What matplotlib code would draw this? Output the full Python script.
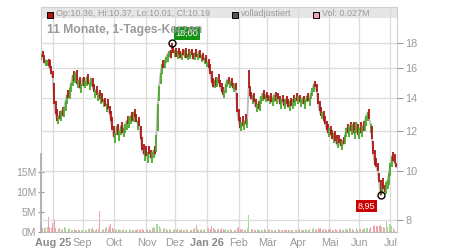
import numpy as np
import pandas as pd
import matplotlib
matplotlib.use("Agg")
import matplotlib.pyplot as plt
from matplotlib.patches import Rectangle
from matplotlib.ticker import NullLocator

plt.rcParams['font.family'] = ['Liberation Sans', 'DejaVu Sans']

# ---------------- data ----------------
start_date = '2025-07-22'
title = '11 Monate, 1-Tages-Kerzen'
header_ohlc = 'Op:10.36, Hi:10.37, Lo:10.01, Cl:10.19'
header_adj = 'volladjustiert'
header_vol = 'Vol: 0.027M'

closes = [
    17.1, 16.9, 16.4, 16.6, 16.6, 16.2, 16.0, 15.6, 15.3, 13.6,
    13.0, 12.6, 12.9, 12.7, 13.2, 12.9, 13.4, 13.8, 14.2, 14.0,
    14.6, 15.0, 15.5, 15.1, 15.7, 14.9, 15.2, 14.6, 14.9, 15.3,
    14.8, 15.1, 15.4, 14.9, 15.0, 15.3, 14.7, 14.4, 14.5, 14.2,
    14.3, 13.9, 14.1, 13.7, 13.9, 13.5, 13.6, 13.3, 13.0, 12.6,
    12.1, 11.7, 11.9, 12.3, 11.8, 12.0, 12.3, 11.9, 12.2, 12.4,
    12.6, 12.4, 12.8, 12.9, 12.6, 13.1, 12.8, 12.5, 12.6, 12.3,
    11.6, 11.0, 10.8, 11.0, 10.7, 10.9, 10.8, 10.6, 10.9, 11.0,
    10.8, 11.8, 13.6, 14.8, 15.7, 16.3, 16.0, 16.6, 16.9, 17.1,
    17.3, 16.8, 17.5, 17.2, 17.4, 16.9, 17.3, 17.1, 16.8, 17.2,
    17.0, 17.4, 16.8, 17.1, 16.9, 17.3, 17.0, 16.7, 17.2, 16.9,
    17.1, 17.3, 16.8, 17.0, 16.6, 16.8, 16.4, 16.5, 16.0, 15.6,
    15.0, 14.7, 15.2, 14.8, 15.3, 15.0, 14.7, 14.4, 14.2, 14.5,
    14.9, 15.2, 14.9, 15.1, 14.8, 14.6, 14.9, 14.5, 13.1, 12.6,
    12.2, 12.5, 12.3, 12.6, 12.4, 12.7, 14.6, 14.1, 13.9, 14.2,
    13.7, 13.4, 13.6, 13.3, 13.8, 14.1, 14.3, 13.9, 14.2, 14.0,
    13.8, 14.1, 13.7, 14.0, 14.2, 13.8, 14.1, 13.9, 13.6, 13.9,
    13.7, 13.5, 13.9, 13.6, 13.4, 13.8, 13.5, 13.9, 13.7, 14.0,
    13.8, 14.1, 13.7, 13.9, 14.0, 13.6, 13.9, 14.1, 13.8, 14.0,
    14.3, 14.6, 14.9, 14.7, 14.4, 13.6, 13.2, 12.9, 13.1, 12.6,
    12.4, 12.1, 11.9, 12.2, 11.8, 11.6, 11.9, 11.5, 11.3, 11.6,
    11.4, 11.2, 11.5, 11.3, 11.8, 12.2, 11.9, 12.3, 12.0, 12.4,
    11.9, 12.1, 12.5, 11.8, 12.2, 11.9, 12.3, 12.0, 12.6, 12.9,
    13.1, 12.7, 12.4, 11.6, 10.8, 10.3, 10.2, 10.0, 9.5, 8.95,
    9.4, 9.2, 9.1, 9.5, 9.6, 9.9, 10.4, 10.7, 10.5, 10.4,
    10.19,
]
opens = [
    16.6, 17.3, 17.0, 16.2, 16.2, 16.7, 16.6, 16.2, 15.8, 15.0,
    13.8, 13.3, 12.4, 13.2, 12.6, 13.4, 12.8, 13.2, 13.6, 14.5,
    13.9, 14.4, 14.8, 15.8, 15.0, 15.9, 14.6, 15.4, 14.3, 14.8,
    15.4, 14.6, 14.8, 15.6, 14.5, 14.8, 15.3, 14.9, 14.0, 14.8,
    13.8, 14.5, 13.6, 14.3, 13.4, 14.0, 13.1, 13.9, 13.5, 13.2,
    12.8, 12.3, 11.4, 11.8, 12.4, 11.5, 11.8, 12.5, 11.7, 11.9,
    12.1, 12.9, 12.2, 12.4, 13.1, 12.5, 13.3, 13.0, 12.1, 12.8,
    12.3, 11.7, 11.3, 10.5, 11.2, 10.4, 11.2, 11.0, 10.4, 10.6,
    11.2, 10.9, 12.0, 13.8, 14.9, 15.6, 16.6, 16.0, 16.4, 16.5,
    16.9, 17.4, 18.0, 17.7, 16.9, 17.6, 16.7, 17.6, 17.3, 16.6,
    17.5, 16.8, 17.6, 16.6, 17.5, 16.7, 17.5, 17.2, 16.6, 17.5,
    16.6, 16.9, 17.4, 16.5, 17.2, 16.3, 17.0, 16.1, 16.7, 16.3,
    15.8, 15.3, 14.6, 15.4, 14.7, 15.6, 15.2, 15.0, 14.7, 14.0,
    14.3, 14.7, 15.4, 14.6, 15.3, 15.0, 14.4, 15.0, 14.3, 13.3,
    12.8, 12.0, 12.9, 12.1, 13.0, 12.2, 15.9, 14.8, 14.4, 13.6,
    14.3, 13.9, 13.1, 13.8, 13.2, 13.6, 13.8, 14.5, 13.7, 14.4,
    14.2, 13.6, 14.3, 13.5, 13.7, 14.4, 13.6, 14.3, 14.1, 13.3,
    14.2, 13.9, 13.3, 14.1, 13.9, 13.2, 14.0, 13.3, 14.2, 13.5,
    14.3, 13.6, 14.2, 13.4, 13.6, 14.1, 13.3, 13.7, 14.3, 13.5,
    13.9, 14.1, 14.4, 15.1, 14.9, 14.3, 13.8, 13.4, 12.7, 13.2,
    12.9, 12.6, 12.4, 11.7, 12.3, 12.1, 11.4, 12.0, 11.8, 11.1,
    11.8, 11.6, 11.0, 11.7, 11.3, 11.7, 12.4, 11.7, 12.5, 11.8,
    12.5, 11.6, 11.9, 12.4, 11.6, 12.5, 11.7, 12.6, 12.0, 12.3,
    12.6, 13.3, 11.9, 12.3, 11.5, 11.0, 10.6, 10.4, 9.9, 9.6,
    9.0, 9.7, 9.4, 9.0, 9.2, 9.4, 9.8, 10.2, 10.9, 10.8,
    10.36,
]
volumes_m = [
    1.8, 1.1, 1.0, 0.9, 1.2, 3.7, 1.2, 1.1, 2.3, 3.2,
    1.0, 0.8, 0.7, 0.9, 0.6, 0.8, 1.3, 0.9, 0.8, 0.7,
    0.9, 0.6, 0.5, 0.7, 0.5, 0.6, 0.4, 0.5, 0.6, 0.5,
    0.7, 0.6, 0.5, 0.8, 1.0, 0.7, 0.9, 0.6, 0.5, 0.8,
    0.7, 5.3, 0.8, 0.6, 0.7, 0.9, 1.2, 0.8, 1.6, 1.9,
    1.1, 0.8, 0.7, 0.6, 0.7, 0.6, 0.5, 0.6, 0.7, 0.5,
    0.6, 0.5, 0.7, 0.6, 0.5, 0.4, 0.6, 0.5, 0.7, 0.6,
    0.8, 0.7, 0.6, 0.5, 0.6, 0.7, 0.5, 0.6, 0.9, 1.2,
    0.9, 1.9, 2.0, 1.4, 1.1, 1.0, 0.8, 0.9, 0.7, 0.6,
    0.8, 0.5, 0.6, 0.4, 0.7, 0.5, 0.9, 0.6, 0.5, 0.7,
    0.6, 0.5, 0.8, 0.6, 0.7, 0.5, 0.6, 0.8, 0.9, 1.8,
    0.7, 0.6, 0.5, 0.7, 0.6, 0.8, 0.5, 0.9, 1.0, 0.8,
    1.5, 0.9, 0.7, 0.6, 0.8, 0.7, 0.6, 0.9, 0.8, 0.5,
    0.7, 0.6, 0.5, 0.8, 0.6, 0.7, 0.5, 0.6, 1.0, 1.2,
    0.8, 0.6, 0.7, 0.5, 0.6, 0.9, 4.3, 1.2, 0.8, 0.7,
    0.6, 0.5, 0.7, 0.6, 0.4, 0.5, 0.6, 0.7, 0.5, 0.6,
    0.5, 0.7, 0.6, 0.5, 0.4, 0.6, 0.5, 0.7, 0.6, 0.5,
    0.6, 0.4, 0.5, 0.6, 0.5, 0.4, 0.6, 0.5, 0.7, 0.5,
    0.6, 0.5, 0.7, 0.4, 0.6, 0.5, 0.7, 0.6, 0.5, 0.8,
    0.6, 0.7, 0.9, 0.6, 0.8, 1.0, 0.7, 0.9, 0.6, 0.8,
    0.7, 0.6, 0.8, 0.5, 0.7, 0.6, 0.5, 0.7, 0.6, 0.5,
    0.6, 0.7, 0.5, 0.6, 0.8, 0.7, 0.6, 0.9, 0.7, 0.8,
    0.6, 0.7, 0.9, 0.6, 0.7, 0.8, 0.6, 0.7, 1.1, 1.0,
    0.9, 0.8, 1.2, 1.4, 1.6, 1.7, 1.5, 1.6, 1.4, 1.8,
    1.3, 1.2, 1.0, 2.7, 1.2, 2.1, 1.9, 1.4, 0.9, 0.6,
    0.027,
]
price_ticks = [8, 10, 12, 14, 16, 18]
vol_ticks_m = [0, 5, 10, 15]
month_names = ['Jan', 'Feb', 'Mär', 'Apr', 'Mai', 'Jun', 'Jul', 'Aug', 'Sep', 'Okt', 'Nov', 'Dez']

# ---------------- derived ----------------
n = len(closes)
dates = pd.bdate_range(start_date, periods=n)
x = np.arange(n)
o = np.array(opens)
c = np.array(closes)
v = np.array(volumes_m) * 1e6

month_idx, month_lbl, month_bold = [], [], []
for i in range(1, n):
    if dates[i].month != dates[i - 1].month:
        month_idx.append(i)
        m = dates[i].month
        if m in (1, 8) or (len(month_idx) == 1):
            month_lbl.append(f"{month_names[m-1]} {dates[i].year % 100:02d}")
            month_bold.append(True)
        else:
            month_lbl.append(month_names[m - 1])
            month_bold.append(False)

GREEN = '#4aa82a'
RED = '#b01414'
VGREEN = '#a8d89c'
VRED = '#f2a2ac'
GRID = '#dcdcdc'
TXT = '#9a9a9a'

W, H = 450, 250
fig = plt.figure(figsize=(4.5, 2.5), dpi=100)
L, R, T, B = 41, 397, 7, 232
ax = fig.add_axes([L / W, 1 - B / H, (R - L) / W, (B - T) / H])
ax.set_xlim(-0.3, n - 0.4)

# volume
prev = np.concatenate([[o[0]], c[:-1]])
vcols = [VGREEN if c[i] >= prev[i] else VRED for i in range(n)]
ax.bar(x, v, width=0.65, color=vcols, zorder=2, linewidth=0)
ax.set_ylim(0, 56e6)
ax.set_yticks([t * 1e6 for t in vol_ticks_m])
ax.set_yticklabels([f"{t}M" for t in vol_ticks_m])
ax.tick_params(axis='y', direction='inout', length=5, color='#999999',
               labelcolor=TXT, labelsize=7.5, pad=1)
ax.set_xticks(month_idx)
ax.set_xticklabels(month_lbl)
ax.tick_params(axis='x', length=0, pad=4, labelsize=7.8, labelcolor=TXT)
for lab, b in zip(ax.get_xticklabels(), month_bold):
    if b:
        lab.set_fontweight('bold')
        lab.set_color('#8a8a8a')
ax.grid(axis='x', color=GRID, lw=0.9)
ax.grid(axis='y', visible=False)
for s in ['top', 'right', 'left']:
    ax.spines[s].set_color('#cfcfcf')
ax.spines['bottom'].set_color('#bbbbbb')
# darker volume-scale axis segment
ax.plot([0, 0], [0, 19.5e6], transform=ax.get_yaxis_transform(), color='#aaaaaa',
        lw=1.2, clip_on=False, zorder=3)

# header band
band_h = 11 / (B - T)
ax.add_patch(Rectangle((0, 1 - band_h), 1, band_h, transform=ax.transAxes,
                       facecolor='#e6e6e6', edgecolor='none', zorder=0.2))

# price
axp = ax.twinx()
axp.set_yscale('log')
axp.set_ylim(7.57, 21.2)
axp.set_xlim(ax.get_xlim())
axp.yaxis.set_minor_locator(NullLocator())
axp.set_yticks(price_ticks)
axp.set_yticklabels([str(t) for t in price_ticks])
axp.tick_params(axis='y', which='both', direction='out', length=4, color='#999999',
                labelcolor=TXT, labelsize=7.8, pad=2)
axp.grid(axis='y', color=GRID, lw=0.9)
for s in axp.spines.values():
    s.set_visible(False)

axp.plot(x, c, color='#bdbdbd', lw=1.3, zorder=2)
ccols = [GREEN if c[i] >= o[i] else RED for i in range(n)]
axp.vlines(x, np.minimum(o, c), np.maximum(o, c), colors=ccols, lw=1.3, zorder=3)

hi_vals = np.maximum(o, c)
lo_vals = np.minimum(o, c)
ih = int(np.argmax(hi_vals))
il = int(np.argmin(lo_vals))
axp.plot([ih], [hi_vals[ih]], 'o', mfc='none', mec='black', ms=5, mew=1, zorder=5)
axp.plot([il], [lo_vals[il]], 'o', mfc='none', mec='black', ms=5, mew=1, zorder=5)
axp.annotate(f"{hi_vals[ih]:.2f}".replace('.', ','), (ih, hi_vals[ih]),
             xytext=(10.8, 6.5), textcoords='offset points', ha='center', va='center',
             fontsize=6.6, color='white', zorder=6,
             bbox=dict(boxstyle='square,pad=0.2', fc='#139413', ec='none'))
axp.annotate(f"{lo_vals[il]:.2f}".replace('.', ','), (il, lo_vals[il]),
             xytext=(-9.9, -7.6), textcoords='offset points', ha='center', va='center',
             fontsize=6.6, color='white', zorder=6,
             bbox=dict(boxstyle='square,pad=0.2', fc='#cc0000', ec='none'))

# title and header legend
def fx(px):
    return px / W

def fy(py):
    return 1 - py / H

fig.text(fx(47), fy(30), title, fontsize=8.7, fontweight='bold', color='#9b9b9b',
         va='center', ha='left')

sq = 5.5
for (sx, col, txt) in [(47, RED, header_ohlc), (232, '#555555', header_adj), (313, '#f2a2b4', header_vol)]:
    fig.add_artist(Rectangle((fx(sx), fy(12 + sq)), sq / W, sq / H, transform=fig.transFigure,
                             facecolor=col, edgecolor='black', lw=0.7))
    fig.text(fx(sx + 9), fy(13.8), txt, fontsize=6.5, color=TXT, va='center', ha='left')

fig.savefig('out.png', dpi=100)
